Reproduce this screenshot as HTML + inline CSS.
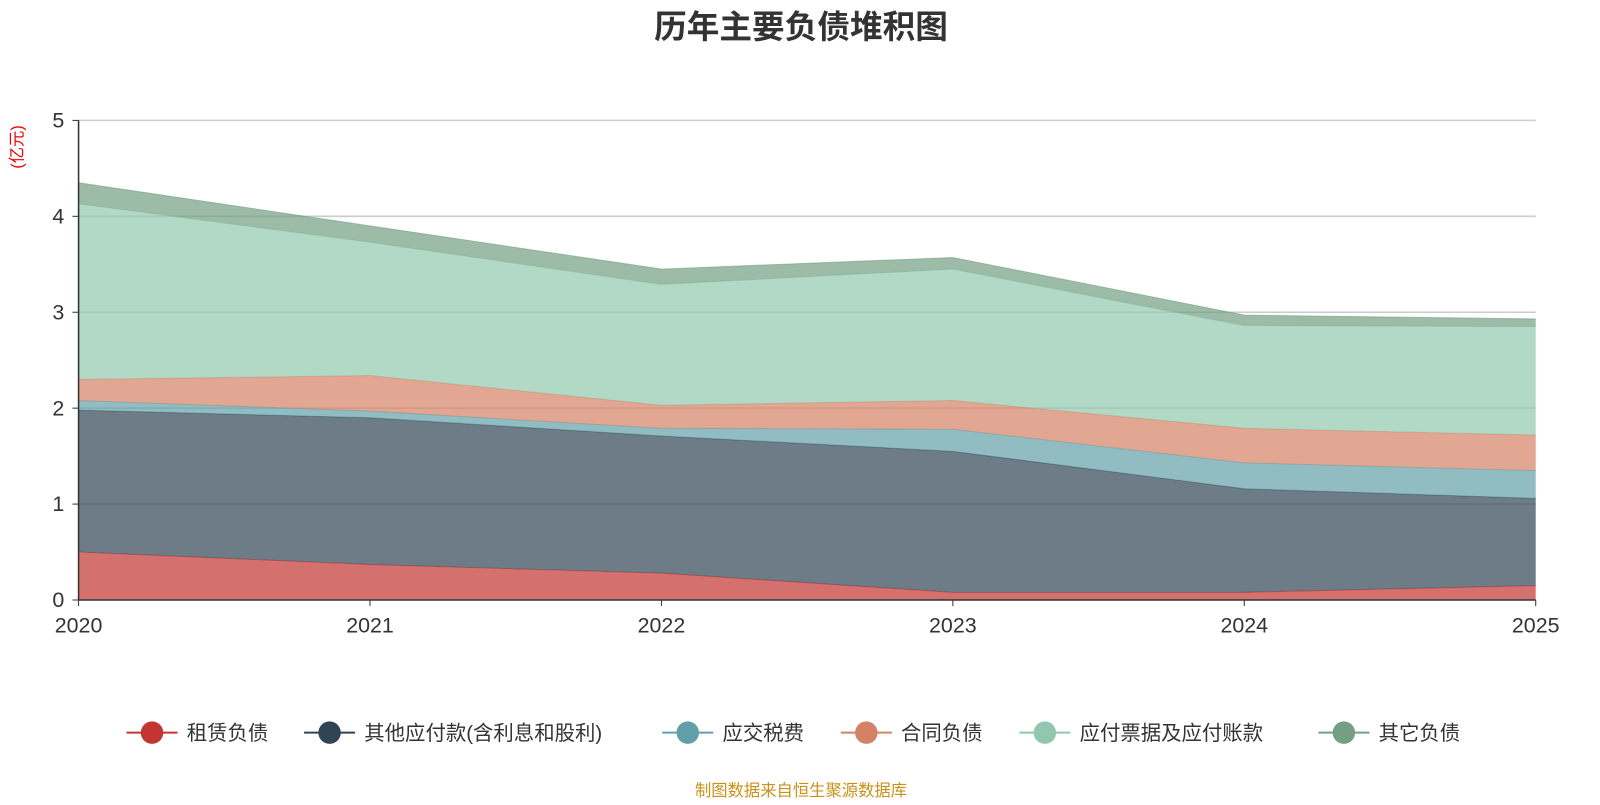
<!DOCTYPE html>
<html><head><meta charset="utf-8"><style>
body{margin:0;background:#fff;font-family:"Liberation Sans","Noto Sans CJK SC",sans-serif}
</style></head><body>
<svg id="c" width="1600" height="800" viewBox="0 0 1568 784" xmlns="http://www.w3.org/2000/svg">
<text x="785" y="37" text-anchor="middle" font-size="32" font-weight="bold" fill="#333" font-family="Liberation Sans,Noto Sans CJK SC,sans-serif">历年主要负债堆积图</text>
<text transform="translate(22,144) rotate(-90)" text-anchor="middle" font-size="16" fill="#e00" font-family="Liberation Sans,Noto Sans CJK SC,sans-serif">(亿元)</text>
<g id="grid"></g><g id="areas"></g><g id="axes"></g><g id="legend"></g>
<text x="785" y="780" text-anchor="middle" font-size="16" fill="#c8921a" font-family="Liberation Sans,Noto Sans CJK SC,sans-serif">制图数据来自恒生聚源数据库</text>
</svg>
<script>
const years=["2020","2021","2022","2023","2024","2025"];
const seriesNames=["租赁负债","其他应付款(含利息和股利)","应交税费","合同负债","应付票据及应付账款","其它负债"];
const lease=[0.50,0.37,0.28,0.08,0.08,0.15];
const otherPayables=[1.48,1.53,1.43,1.47,1.08,0.91];
const taxes=[0.10,0.07,0.08,0.23,0.27,0.29];
const contract=[0.22,0.37,0.24,0.30,0.36,0.37];
const notesPayable=[1.83,1.39,1.26,1.37,1.07,1.13];
const otherLiab=[0.22,0.17,0.16,0.12,0.11,0.08];
const yTicks=[0,1,2,3,4,5];
const series=[lease,otherPayables,taxes,contract,notesPayable,otherLiab];
const lineColors=["#c23531","#2f4554","#61a0a8","#d48265","#91c7ae","#749f83"];
const NS="http://www.w3.org/2000/svg";
const x0=77,x1=1505,y0=588,yTop=118,yMax=5;
const X=i=>x0+(x1-x0)*i/(years.length-1);
const Y=v=>y0-(y0-yTop)*v/yMax;
function mk(tag,attrs,parent){const e=document.createElementNS(NS,tag);for(const k in attrs)e.setAttribute(k,attrs[k]);parent.appendChild(e);return e;}
const grid=document.getElementById('grid'),areas=document.getElementById('areas'),axes=document.getElementById('axes'),legend=document.getElementById('legend');
yTicks.forEach(t=>{
 if(t>0){const l=mk('line',{x1:x0,x2:x1,y1:Y(t),y2:Y(t),stroke:'#ccc','stroke-width':1.5},grid);
 
 }
 const tx=mk('text',{x:x0-14,y:Y(t)+7,'text-anchor':'end','font-size':21,fill:'#333'},axes);tx.textContent=t;
 
 
 const tk=mk('line',{x1:x0-6,x2:x0,y1:Y(t),y2:Y(t),stroke:'#333'},axes);
 
 
});
let base=years.map(()=>0);
series.forEach((s,si)=>{
 const top=base.map((b,i)=>b+s[i]);
 let d='M'+top.map((v,i)=>X(i)+','+Y(v)).join('L');
 for(let i=years.length-1;i>=0;i--)d+='L'+X(i)+','+Y(base[i]);
 const a=mk('path',{d:d+'Z',fill:lineColors[si],'fill-opacity':0.7,stroke:'none'},areas);
 
 
 const ln=mk('polyline',{points:top.map((v,i)=>X(i)+','+Y(v)).join(' '),fill:'none',stroke:lineColors[si],'stroke-width':1,'stroke-opacity':0.6},areas);
 
 
 base=top;
});
const ax=mk('line',{x1:x0,x2:x1,y1:y0,y2:y0,stroke:'#333','stroke-width':1.5},axes);


const ay=mk('line',{x1:x0,x2:x0,y1:yTop,y2:y0,stroke:'#333','stroke-width':1.5},axes);


years.forEach((yr,i)=>{
 const t=mk('text',{x:X(i),y:y0+32,'text-anchor':'middle','font-size':21,fill:'#333'},axes);t.textContent=yr;
 
 
 const tk=mk('line',{x1:X(i),x2:X(i),y1:y0,y2:y0+6,stroke:'#333'},axes);
 
 
});
const lx=[124,298,649,824,999,1292];
seriesNames.forEach((n,i)=>{
 const g=mk('g',{},legend);
 
 
 mk('line',{x1:lx[i],x2:lx[i]+50,y1:718,y2:718,stroke:lineColors[i],'stroke-width':2},g);
 mk('circle',{cx:lx[i]+25,cy:718,r:11,fill:lineColors[i]},g);
 const t=mk('text',{x:lx[i]+59,y:725,'font-size':20,fill:'#333'},g);t.textContent=n;
});
</script>
</body></html>
